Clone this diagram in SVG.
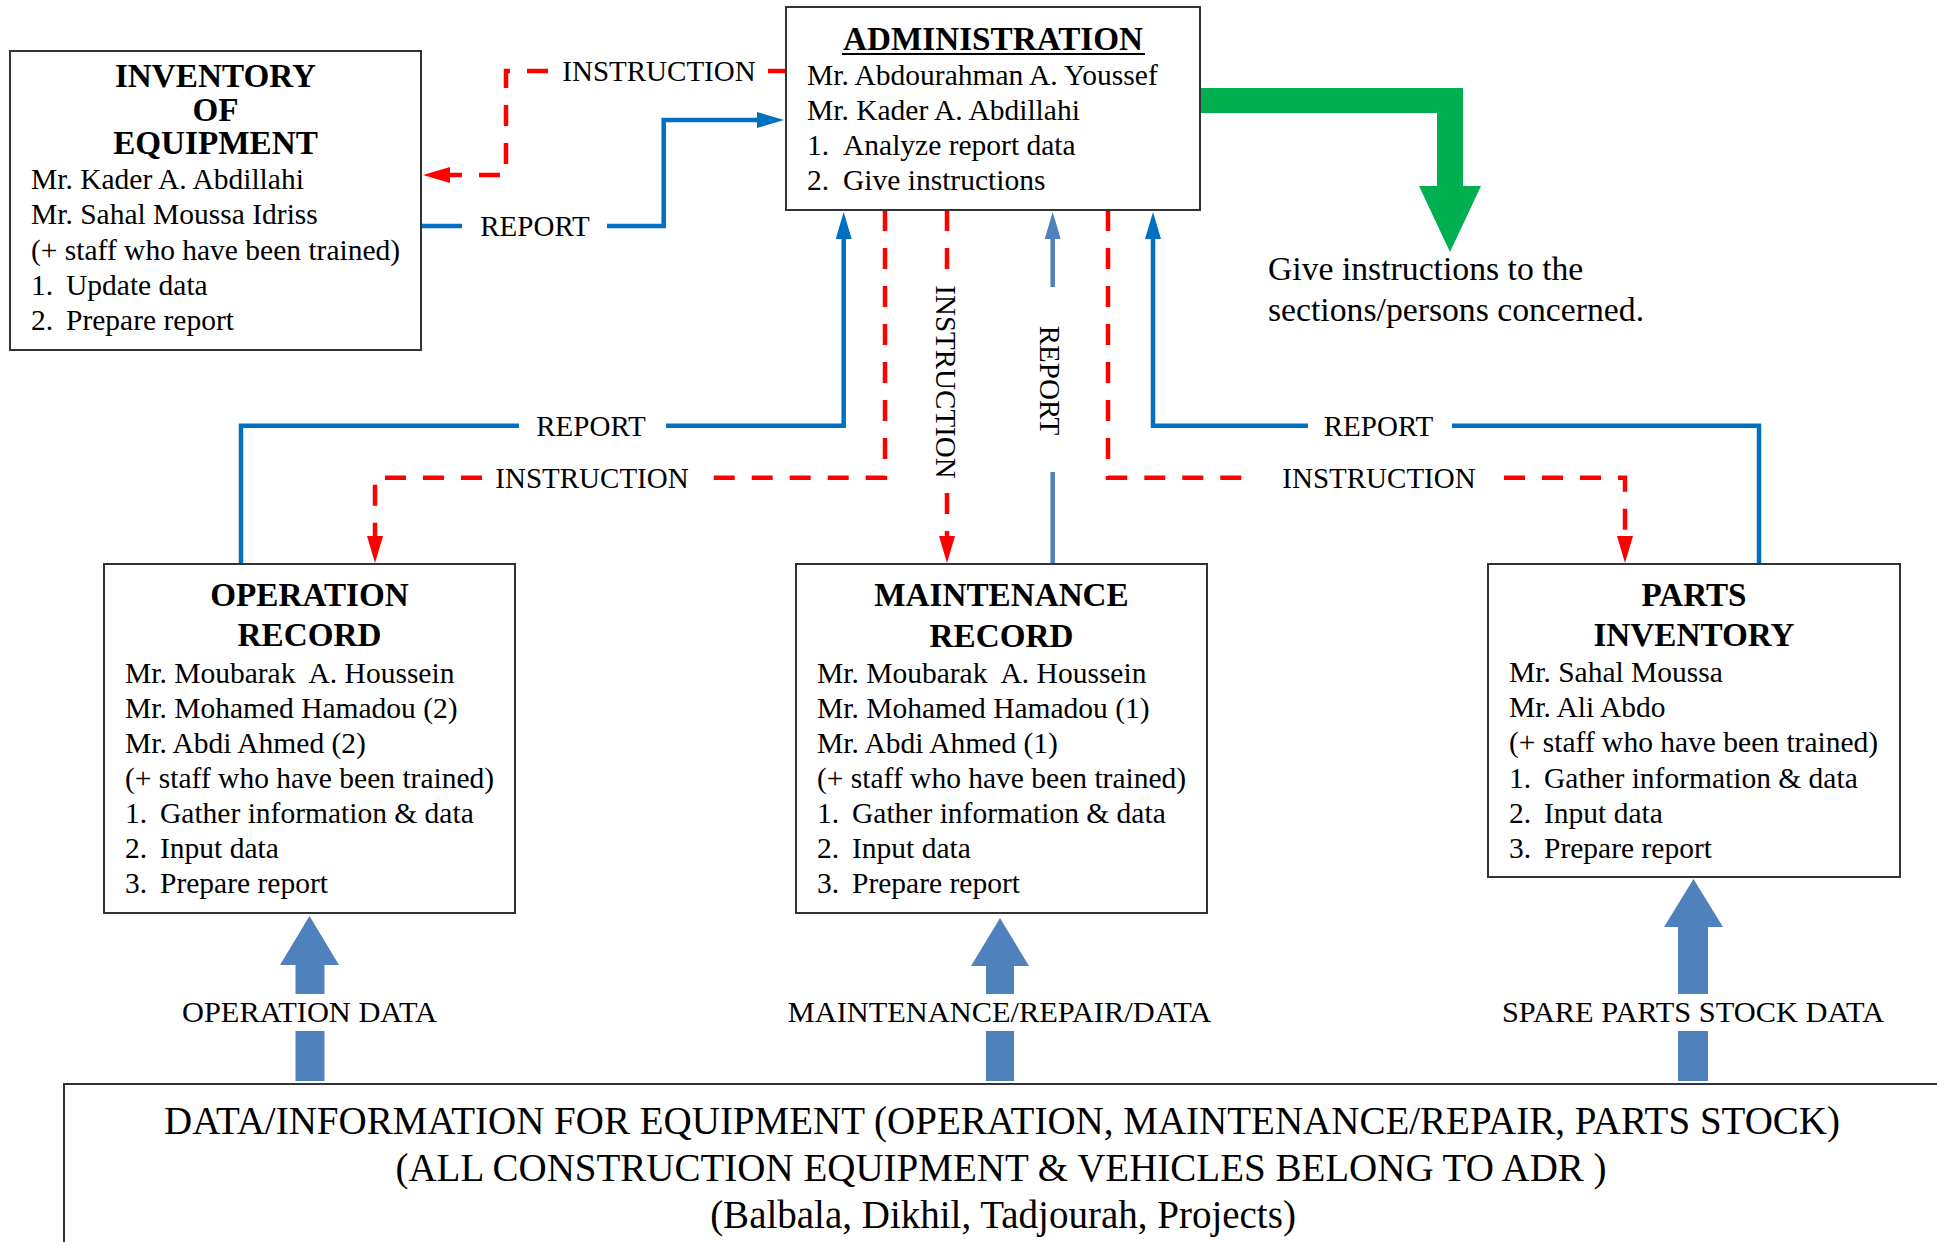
<svg xmlns="http://www.w3.org/2000/svg" width="1937" height="1242" viewBox="0 0 1937 1242">
  <style>
    text { font-family: "Liberation Serif", "Times New Roman", serif; fill: #000; }
    .title { font-size: 33.2px; font-weight: bold; text-anchor: middle; }
    .body { font-size: 29.5px; }
    .lbl { font-size: 29px; text-anchor: middle; }
    .dlbl { font-size: 30.4px; text-anchor: middle; }
    .note { font-size: 33.7px; }
    .foot { font-size: 39px; text-anchor: middle; }
    .box { fill: #fff; stroke: #333; stroke-width: 2; }
    .red { fill: none; stroke: #FF0000; stroke-width: 4.5; stroke-dasharray: 21 17; }
    .blue { fill: none; stroke: #0070C0; stroke-width: 4.5; stroke-linejoin: miter; }
    .lblue { fill: none; stroke: #4F81BD; stroke-width: 4.5; }
    .fat { fill: #4F81BD; }
  </style>
  <defs>
    <marker id="ah-red" viewBox="0 0 27 16" markerWidth="27" markerHeight="16" refX="17" refY="8" orient="auto" markerUnits="userSpaceOnUse">
      <path d="M0,0 L27,8 L0,16 z" fill="#FF0000"/>
    </marker>
    <marker id="ah-blue" viewBox="0 0 27 16" markerWidth="27" markerHeight="16" refX="17" refY="8" orient="auto" markerUnits="userSpaceOnUse">
      <path d="M0,0 L27,8 L0,16 z" fill="#0070C0"/>
    </marker>
    <marker id="ah-lblue" viewBox="0 0 27 16" markerWidth="27" markerHeight="16" refX="17" refY="8" orient="auto" markerUnits="userSpaceOnUse">
      <path d="M0,0 L27,8 L0,16 z" fill="#4F81BD"/>
    </marker>
  </defs>

  <rect width="1937" height="1242" fill="#fff"/>

  <!-- connectors -->
  <g id="connectors">
    <!-- administration -> inventory of equipment -->
    <path class="red" style="stroke-dasharray:none" d="M786,71 H768"/>
    <path class="red" d="M548,71 H506 V175 H433" marker-end="url(#ah-red)"/>
    <text class="lbl" x="659" y="80.5">INSTRUCTION</text>
    <!-- inventory of equipment -> administration -->
    <path class="blue" d="M421,226 H462"/>
    <path class="blue" d="M607,226 H663.7 V120 H774" marker-end="url(#ah-blue)"/>
    <text class="lbl" x="535" y="236">REPORT</text>

    <!-- operation record <-> administration -->
    <path class="blue" d="M241,564 V425.7 H519"/>
    <path class="blue" d="M666,425.7 H843.7 V222" marker-end="url(#ah-blue)"/>
    <text class="lbl" x="591" y="435.5">REPORT</text>
    <path class="red" d="M885,210 V477.7 H702"/>
    <path class="red" d="M482,477.7 H375 V553" marker-end="url(#ah-red)"/>
    <text class="lbl" x="592" y="487.5">INSTRUCTION</text>

    <!-- maintenance record <-> administration -->
    <path class="red" d="M947,210 V272"/>
    <path class="red" d="M947,493 V553" marker-end="url(#ah-red)"/>
    <text class="lbl" transform="translate(936,382) rotate(90)">INSTRUCTION</text>
    <path class="lblue" d="M1052.7,287 V222" marker-end="url(#ah-lblue)"/>
    <path class="lblue" d="M1052.7,472 V564"/>
    <text class="lbl" transform="translate(1040,380.5) rotate(90)">REPORT</text>

    <!-- parts inventory <-> administration -->
    <path class="red" d="M1108,210 V477.7 H1254"/>
    <path class="red" d="M1504,477.7 H1625 V553" marker-end="url(#ah-red)"/>
    <text class="lbl" x="1379" y="487.5">INSTRUCTION</text>
    <path class="blue" d="M1759,564 V425.7 H1452"/>
    <path class="blue" d="M1308,425.7 H1153 V222" marker-end="url(#ah-blue)"/>
    <text class="lbl" x="1378.5" y="435.5">REPORT</text>

    <!-- instructions to the sections -->
    <polygon fill="#00B050" points="1200,88 1463,88 1463,186 1481,186 1450,252 1419,186 1437,186 1437,113 1200,113"/>

    <!-- data flows from the field -->
    <polygon class="fat" points="295.5,994 295.5,965 280,965 309.5,916 339,965 324.5,965 324.5,994"/>
    <rect class="fat" x="295.5" y="1031" width="29" height="50"/>
    <text class="dlbl" x="309.5" y="1022">OPERATION DATA</text>

    <polygon class="fat" points="986,994 986,966 971,966 1000,918 1029,966 1014,966 1014,994"/>
    <rect class="fat" x="986" y="1031" width="28" height="50"/>
    <text class="dlbl" x="999.5" y="1022">MAINTENANCE/REPAIR/DATA</text>

    <polygon class="fat" points="1678,994 1678,927 1664,927 1693.5,879 1723,927 1708,927 1708,994"/>
    <rect class="fat" x="1678" y="1031" width="30" height="50"/>
    <text class="dlbl" x="1693" y="1022">SPARE PARTS STOCK DATA</text>
  </g>

  <text class="note" x="1268" y="280">Give instructions to the</text>
  <text class="note" x="1268" y="321">sections/persons concerned.</text>

  <!-- inventory of equipment -->
  <g id="inventory-of-equipment">
    <rect class="box" x="10" y="51" width="411" height="299"/>
    <text class="title" x="215.5" y="87">INVENTORY</text>
    <text class="title" x="215.5" y="120.5">OF</text>
    <text class="title" x="215.5" y="154">EQUIPMENT</text>
    <text class="body" x="31" y="189">Mr. Kader A. Abdillahi</text>
    <text class="body" x="31" y="224">Mr. Sahal Moussa Idriss</text>
    <text class="body" x="31" y="259.5">(+ staff who have been trained)</text>
    <text class="body" x="31" y="295">1.</text><text class="body" x="66" y="295">Update data</text>
    <text class="body" x="31" y="330">2.</text><text class="body" x="66" y="330">Prepare report</text>
  </g>

  <!-- administration -->
  <g id="administration">
    <rect class="box" x="786" y="7" width="414" height="203"/>
    <text class="title" x="993" y="50">ADMINISTRATION</text>
    <line x1="842" y1="54" x2="1145" y2="54" stroke="#000" stroke-width="2"/>
    <text class="body" x="807" y="85">Mr. Abdourahman A. Youssef</text>
    <text class="body" x="807" y="120">Mr. Kader A. Abdillahi</text>
    <text class="body" x="807" y="155">1.</text><text class="body" x="843" y="155">Analyze report data</text>
    <text class="body" x="807" y="190">2.</text><text class="body" x="843" y="190">Give instructions</text>
  </g>

  <!-- operation record -->
  <g id="operation-record">
    <rect class="box" x="104" y="564" width="411" height="349"/>
    <text class="title" x="309.5" y="605.7">OPERATION</text>
    <text class="title" x="309.5" y="646">RECORD</text>
    <text class="body" x="125" y="682.5">Mr. Moubarak&#160; A. Houssein</text>
    <text class="body" x="125" y="717.5">Mr. Mohamed Hamadou (2)</text>
    <text class="body" x="125" y="752.5">Mr. Abdi Ahmed (2)</text>
    <text class="body" x="125" y="787.5">(+ staff who have been trained)</text>
    <text class="body" x="125" y="822.5">1.</text><text class="body" x="160" y="822.5">Gather information &amp; data</text>
    <text class="body" x="125" y="857.5">2.</text><text class="body" x="160" y="857.5">Input data</text>
    <text class="body" x="125" y="892.7">3.</text><text class="body" x="160" y="892.7">Prepare report</text>
  </g>

  <!-- maintenance record -->
  <g id="maintenance-record">
    <rect class="box" x="796" y="564" width="411" height="349"/>
    <text class="title" x="1001.5" y="606">MAINTENANCE</text>
    <text class="title" x="1001.5" y="647">RECORD</text>
    <text class="body" x="817" y="682.5">Mr. Moubarak&#160; A. Houssein</text>
    <text class="body" x="817" y="717.5">Mr. Mohamed Hamadou (1)</text>
    <text class="body" x="817" y="752.5">Mr. Abdi Ahmed (1)</text>
    <text class="body" x="817" y="787.5">(+ staff who have been trained)</text>
    <text class="body" x="817" y="822.5">1.</text><text class="body" x="852" y="822.5">Gather information &amp; data</text>
    <text class="body" x="817" y="857.5">2.</text><text class="body" x="852" y="857.5">Input data</text>
    <text class="body" x="817" y="892.7">3.</text><text class="body" x="852" y="892.7">Prepare report</text>
  </g>

  <!-- parts inventory -->
  <g id="parts-inventory">
    <rect class="box" x="1488" y="564" width="412" height="313"/>
    <text class="title" x="1694" y="606">PARTS</text>
    <text class="title" x="1694" y="646">INVENTORY</text>
    <text class="body" x="1509" y="682">Mr. Sahal Moussa</text>
    <text class="body" x="1509" y="717">Mr. Ali Abdo</text>
    <text class="body" x="1509" y="752">(+ staff who have been trained)</text>
    <text class="body" x="1509" y="787.5">1.</text><text class="body" x="1544" y="787.5">Gather information &amp; data</text>
    <text class="body" x="1509" y="822.5">2.</text><text class="body" x="1544" y="822.5">Input data</text>
    <text class="body" x="1509" y="857.5">3.</text><text class="body" x="1544" y="857.5">Prepare report</text>
  </g>

  <!-- field data sources -->
  <g id="equipment-data">
    <rect class="box" x="64" y="1084" width="1900" height="200"/>
    <text class="foot" x="1002" y="1134">DATA/INFORMATION FOR EQUIPMENT (OPERATION, MAINTENANCE/REPAIR, PARTS STOCK)</text>
    <text class="foot" x="1001" y="1181">(ALL CONSTRUCTION EQUIPMENT &amp; VEHICLES BELONG TO ADR )</text>
    <text class="foot" x="1003" y="1228">(Balbala, Dikhil, Tadjourah, Projects)</text>
  </g>
</svg>
